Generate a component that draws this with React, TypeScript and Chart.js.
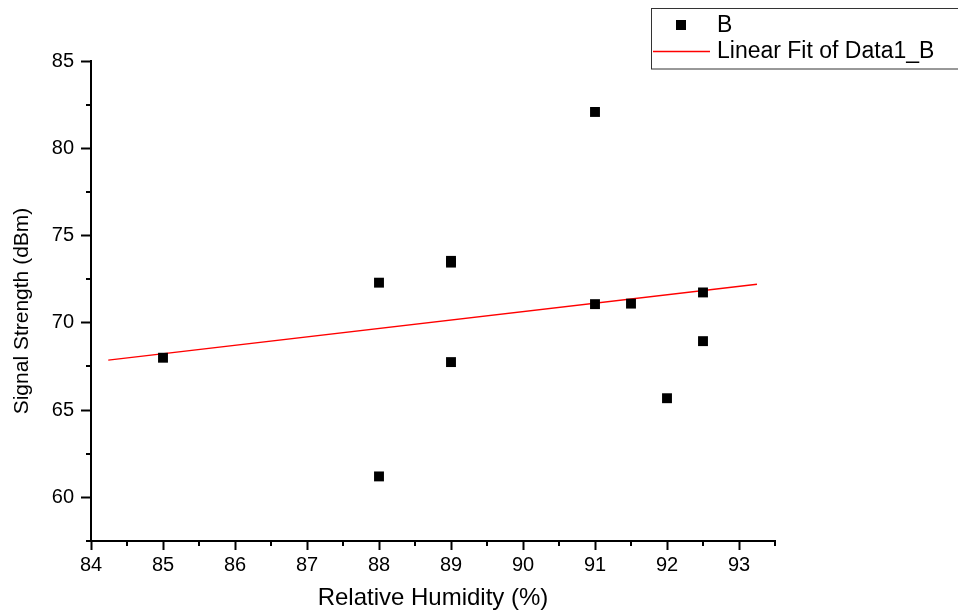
import React, { useEffect, useRef } from "react";
import { Chart, registerables } from "chart.js";

Chart.register(...registerables);

const humidity = [85, 88, 88, 89, 89, 89, 91, 91, 91.5, 92, 92.5, 92.5];
const signal = [68.0, 72.3, 61.2, 73.45, 73.55, 67.75, 82.08, 71.07, 71.1, 65.68, 71.74, 68.95];
const fitX = [84.24, 93.25];
const fitY = [67.86, 72.21];
const xMajorTicks = [84, 85, 86, 87, 88, 89, 90, 91, 92, 93];
const xMinorTicks = [84.5, 85.5, 86.5, 87.5, 88.5, 89.5, 90.5, 91.5, 92.5, 93.5];
const yMajorTicks = [60, 65, 70, 75, 80, 85];
const yMinorTicks = [57.5, 62.5, 67.5, 72.5, 77.5, 82.5];
const xTitle = "Relative Humidity (%)";
const yTitle = "Signal Strength (dBm)";
const seriesName = "B";
const fitName = "Linear Fit of Data1_B";

const FONT = '"Liberation Sans", Arial, Helvetica, sans-serif';

const decorPlugin = {
  id: "decor",
  afterDraw(chart: any) {
    const ctx = chart.ctx;
    const xs = chart.scales.x;
    const ys = chart.scales.y;
    const area = chart.chartArea;
    ctx.save();
    // minor ticks
    ctx.strokeStyle = "#000";
    ctx.lineWidth = 2;
    ctx.beginPath();
    xMinorTicks.forEach((v) => {
      const px = Math.round(xs.getPixelForValue(v));
      ctx.moveTo(px, area.bottom);
      ctx.lineTo(px, area.bottom + 5);
    });
    yMinorTicks.forEach((v) => {
      const py = Math.round(ys.getPixelForValue(v));
      ctx.moveTo(area.left - 5, py);
      ctx.lineTo(area.left, py);
    });
    ctx.stroke();

    // axis titles
    ctx.fillStyle = "#000";
    ctx.font = `24px ${FONT}`;
    ctx.textAlign = "center";
    ctx.textBaseline = "alphabetic";
    ctx.fillText(xTitle, (area.left + area.right) / 2, 605);

    ctx.save();
    ctx.translate(28, 311);
    ctx.rotate(-Math.PI / 2);
    ctx.font = `21px ${FONT}`;
    ctx.fillText(yTitle, 0, 0);
    ctx.restore();

    // legend
    ctx.strokeStyle = "#333333";
    ctx.lineWidth = 1;
    ctx.strokeRect(651.5, 8.5, 320, 60.5);
    ctx.fillStyle = "#000";
    ctx.fillRect(676, 20, 10, 10);
    ctx.beginPath();
    ctx.strokeStyle = "#ff0000";
    ctx.lineWidth = 1.4;
    ctx.moveTo(653, 51.5);
    ctx.lineTo(710, 51.5);
    ctx.stroke();
    ctx.fillStyle = "#000";
    ctx.font = `23px ${FONT}`;
    ctx.textAlign = "left";
    ctx.fillText(seriesName, 717, 32);
    ctx.fillText(fitName, 717, 58);
    ctx.restore();
  },
};

export default function App() {
  const ref = useRef<HTMLCanvasElement | null>(null);
  useEffect(() => {
    if (!ref.current) return;
    const chart = new Chart(ref.current, {
      type: "scatter",
      data: {
        datasets: [
          {
            label: seriesName,
            data: humidity.map((x, i) => ({ x, y: signal[i] })),
            pointStyle: "rect",
            pointRadius: 7,
            pointBackgroundColor: "#000",
            pointBorderWidth: 0,
            showLine: false,
          },
          {
            label: fitName,
            type: "line" as any,
            data: fitX.map((x, i) => ({ x, y: fitY[i] })),
            borderColor: "#ff0000",
            borderWidth: 1.3,
            pointRadius: 0,
            showLine: true,
            fill: false,
          },
        ],
      },
      options: {
        animation: false,
        responsive: true,
        maintainAspectRatio: false,
        layout: { padding: { left: 0, top: 61, right: 183, bottom: 0 } },
        plugins: {
          legend: { display: false },
          tooltip: { enabled: false },
        },
        scales: {
          x: {
            type: "linear",
            min: 84,
            max: 93.5,
            afterBuildTicks: (s: any) => {
              s.ticks = xMajorTicks.map((v) => ({ value: v }));
            },
            afterFit: (s: any) => {
              s.height = 69;
            },
            ticks: {
              color: "#000",
              font: { family: FONT, size: 20 },
              padding: 3,
              autoSkip: false,
              maxRotation: 0,
              callback: (v: any) => String(v),
            },
            grid: {
              drawOnChartArea: false,
              tickLength: 9,
              tickWidth: 2,
              tickColor: "#000",
            },
            border: { color: "#000", width: 2 },
          },
          y: {
            type: "linear",
            min: 57.5,
            max: 85,
            afterBuildTicks: (s: any) => {
              s.ticks = yMajorTicks.map((v) => ({ value: v }));
            },
            afterFit: (s: any) => {
              s.width = 91;
            },
            ticks: {
              color: "#000",
              font: { family: FONT, size: 20 },
              padding: 7,
              autoSkip: false,
              callback: (v: any) => String(v),
            },
            grid: {
              drawOnChartArea: false,
              tickLength: 10,
              tickWidth: 2,
              tickColor: "#000",
            },
            border: { color: "#000", width: 2 },
          },
        },
      },
      plugins: [decorPlugin],
    });
    return () => chart.destroy();
  }, []);
  return (
    <div style={{ position: "fixed", left: 0, top: 0, width: 958, height: 610, background: "#fff" }}>
      <canvas ref={ref} />
    </div>
  );
}
